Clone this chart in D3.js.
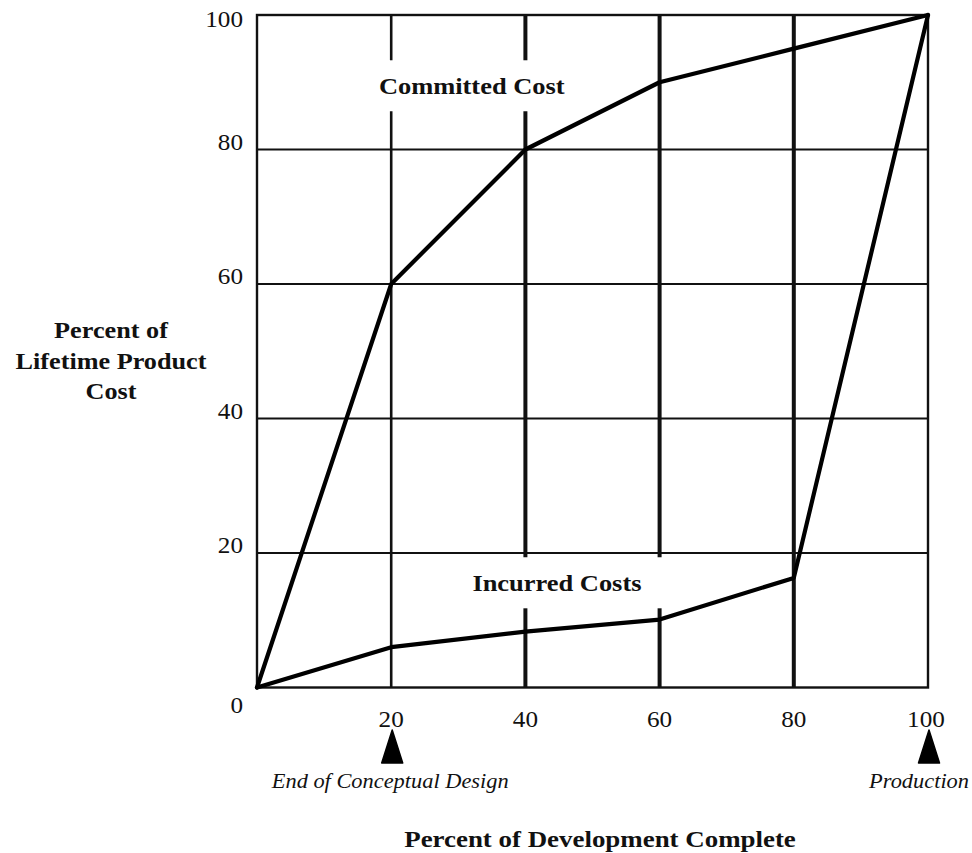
<!DOCTYPE html>
<html>
<head>
<meta charset="utf-8">
<script src="https://cdn.jsdelivr.net/npm/d3@7"></script>
<style>
  html, body { margin: 0; padding: 0; background: #fff; }
  svg { display: block; }
  text { font-family: "Liberation Serif", "Times New Roman", serif; fill: #111; }
</style>
</head>
<body>
<svg id="chart" width="972" height="853"></svg>
<script>
// ---- data ----
const devPercent = [0, 20, 40, 60, 80, 100];
const committedCost = [0, 60, 80, 90, 95, 100];
const incurredCosts = [0, 6, 8.3, 10.1, 16.3, 100];
const xTicks = [20, 40, 60, 80, 100];
const yTicks = [0, 20, 40, 60, 80, 100];
const gridValues = [20, 40, 60, 80];
const milestoneX = [20, 100];
const milestoneLabels = ["End of Conceptual Design", "Production"];
const seriesLabels = ["Committed Cost", "Incurred Costs"];
const seriesLabelAt = [[32, 88.3], [44.7, 14.4]];
const yTitleLines = ["Percent of", "Lifetime Product", "Cost"];
const xTitle = "Percent of Development Complete";

// ---- setup ----
const W = 972, H = 853;
const svg = d3.select("#chart");
const x = d3.scaleLinear().domain([0, 100]).range([257, 928]);
const y = d3.scaleLinear().domain([0, 100]).range([687.5, 15]);
const ink = "#111";

function stretchedText(g, tx, ty, str, opts) {
  const t = g.append("text")
    .attr("transform", `translate(${tx},${ty}) scale(${opts.sx || 1},1)`)
    .attr("text-anchor", opts.anchor || "middle")
    .style("font-size", (opts.size || 23) + "px")
    .style("font-weight", opts.weight || "normal")
    .style("font-style", opts.style || "normal")
    .text(str);
  return t;
}

// ---- series labels (drawn first so grid gaps can use their boxes) ----
const labelG = svg.append("g");
const labelBoxes = [];
seriesLabels.forEach((s, i) => {
  const [lx, ly] = seriesLabelAt[i];
  const sx = 1.15;
  const t = stretchedText(labelG, x(lx), y(ly), s, { weight: "bold", sx: sx, size: 23 });
  const b = t.node().getBBox();
  labelBoxes.push({
    x0: x(lx) + b.x * sx - 22, x1: x(lx) + (b.x + b.width) * sx + 22,
    y0: y(ly) + b.y - 13, y1: y(ly) + b.y + b.height + 13
  });
});

// ---- grid ----
const gridG = svg.append("g").attr("stroke", ink).attr("fill", "none");
gridValues.forEach(v => {
  gridG.append("line")
    .attr("x1", x(0)).attr("x2", x(100))
    .attr("y1", y(v)).attr("y2", y(v))
    .attr("stroke-width", 2.2);
});
gridValues.forEach(v => {
  const px = x(v);
  let segs = [[y(100), y(0)]];
  labelBoxes.forEach(b => {
    if (px > b.x0 && px < b.x1) {
      const next = [];
      segs.forEach(([a, c]) => {
        if (b.y1 <= a || b.y0 >= c) { next.push([a, c]); return; }
        if (b.y0 > a) next.push([a, b.y0]);
        if (b.y1 < c) next.push([b.y1, c]);
      });
      segs = next;
    }
  });
  segs.forEach(([a, c]) => {
    gridG.append("line")
      .attr("x1", px).attr("x2", px)
      .attr("y1", a).attr("y2", c)
      .attr("stroke-width", v === 20 ? 2.6 : 4);
  });
});
gridG.append("rect")
  .attr("x", x(0)).attr("y", y(100))
  .attr("width", x(100) - x(0)).attr("height", y(0) - y(100))
  .attr("stroke-width", 2.4);

// ---- curves ----
const line = d3.line().x(d => x(d[0])).y(d => y(d[1]));
[committedCost, incurredCosts].forEach(vals => {
  svg.append("path")
    .datum(devPercent.map((d, i) => [d, vals[i]]))
    .attr("d", line)
    .attr("fill", "none")
    .attr("stroke", "#000")
    .attr("stroke-width", 4.2)
    .attr("stroke-linejoin", "round")
    .attr("stroke-linecap", "round");
});

// ---- tick labels ----
const tickG = svg.append("g");
yTicks.forEach(v => {
  let by = y(v);
  if (v === 100) by = y(v) + 12;
  if (v === 0) by = y(v) + 25.5;
  stretchedText(tickG, 243, by, String(v), { anchor: "end", sx: 1.05, size: 24 });
});
xTicks.forEach(v => {
  stretchedText(tickG, x(v) - (v === 100 ? 2 : 0), 727, String(v), { sx: 1.05, size: 24 });
});

// ---- milestones ----
const msG = svg.append("g");
milestoneX.forEach((v, i) => {
  const cx = x(v) + 1;
  msG.append("path")
    .attr("d", `M${cx},730 L${cx + 10.5},763 L${cx - 10.5},763 Z`)
    .attr("fill", "#000")
    .attr("stroke", "#000")
    .attr("stroke-width", 1.5)
    .attr("stroke-linejoin", "round");
  const t = stretchedText(msG, cx - 2, 788, milestoneLabels[i], { style: "italic", sx: 1.12, size: 20 });
  const b = t.node().getBBox();
  const right = cx - 2 + (b.x + b.width) * 1.12;
  if (right > W - 3) {
    t.attr("text-anchor", "end").attr("transform", `translate(${W - 3},788) scale(1.12,1)`);
  }
});

// ---- axis titles ----
const titleG = svg.append("g");
yTitleLines.forEach((s, i) => {
  stretchedText(titleG, 111, 338 + i * 30.5, s, { weight: "bold", sx: 1.14, size: 23 });
});
stretchedText(titleG, 600, 847, xTitle, { weight: "bold", sx: 1.17, size: 23 });
</script>
</body>
</html>
